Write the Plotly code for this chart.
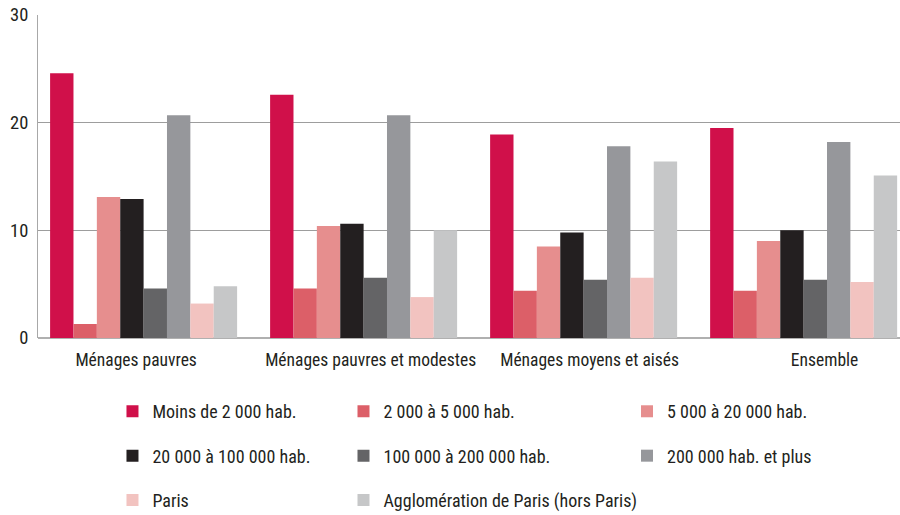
import plotly.graph_objects as go

categories = ["Ménages pauvres", "Ménages pauvres et modestes", "Ménages moyens et aisés", "Ensemble"]

series_names = [
    "Moins de 2 000 hab.",
    "2 000 à 5 000 hab.",
    "5 000 à 20 000 hab.",
    "20 000 à 100 000 hab.",
    "100 000 à 200 000 hab.",
    "200 000 hab. et plus",
    "Paris",
    "Agglomération de Paris (hors Paris)",
]

moins_2000 = [24.6, 22.6, 18.9, 19.5]
de_2000_5000 = [1.3, 4.6, 4.4, 4.4]
de_5000_20000 = [13.1, 10.4, 8.5, 9.0]
de_20000_100000 = [12.9, 10.6, 9.8, 10.0]
de_100000_200000 = [4.6, 5.6, 5.4, 5.4]
plus_200000 = [20.7, 20.7, 17.8, 18.2]
paris = [3.2, 3.8, 5.6, 5.2]
agglo_paris = [4.8, 10.0, 16.4, 15.1]

series_values = [moins_2000, de_2000_5000, de_5000_20000, de_20000_100000,
                 de_100000_200000, plus_200000, paris, agglo_paris]

y_ticks = [0, 10, 20, 30]

colors = ["#D0104A", "#DC5F68", "#E68E8E", "#231F20", "#646466", "#96979B", "#F2C3C0", "#C6C7C8"]
legend_of = ["legend", "legend2", "legend3", "legend", "legend2", "legend3", "legend", "legend2"]
label_offsets = [-0.034, 0.032, 0.027, 0.095]

FONT = "Liberation Sans Narrow, Roboto Condensed, DejaVu Sans Condensed, Arial Narrow, sans-serif"

x_pos = list(range(len(categories)))

fig = go.Figure()
for name, vals, col, lg in zip(series_names, series_values, colors, legend_of):
    fig.add_trace(go.Bar(
        x=x_pos, y=vals, name=name,
        marker=dict(color=col, line=dict(width=0)),
        legend=lg, legendgroup=name,
        hovertemplate="%{y}<extra>" + name + "</extra>",
    ))

legend_common = dict(
    orientation="v", yanchor="top", xanchor="left",
    font=dict(family=FONT, size=18, color="#231F20"),
    tracegroupgap=18, bgcolor="rgba(0,0,0,0)", itemclick=False,
)

legend_y = -0.1705

fig.update_layout(
    width=900, height=515,
    margin=dict(l=38, r=0, t=15, b=177, autoexpand=False),
    paper_bgcolor="white", plot_bgcolor="white",
    barmode="group", bargap=0.15, bargroupgap=0,
    font=dict(family=FONT, size=17, color="#231F20"),
    xaxis=dict(
        range=[-0.48, 3.438],
        tickvals=[i + o for i, o in zip(x_pos, label_offsets)],
        ticktext=categories,
        showgrid=False, zeroline=False, showline=False,
        ticks="", ticklabelstandoff=9,
        tickfont=dict(family=FONT, size=17.5, color="#231F20"),
    ),
    yaxis=dict(
        range=[0, 30], tickvals=y_ticks,
        showgrid=True, gridcolor="#9d9d9d", gridwidth=1,
        zeroline=True, zerolinecolor="#b0b0b0", zerolinewidth=2,
        showline=True, linecolor="#a8a8a8", linewidth=1,
        ticks="", ticklabelstandoff=5,
        tickfont=dict(family=FONT, size=18.5, color="#231F20"),
    ),
    legend=dict(x=0.0864, y=legend_y, **legend_common),
    legend2=dict(x=0.3544, y=legend_y, **legend_common),
    legend3=dict(x=0.6833, y=legend_y, **legend_common),
)

fig.write_html("out.html", config={"displayModeBar": False},
               post_script="document.body.style.margin='0';")
